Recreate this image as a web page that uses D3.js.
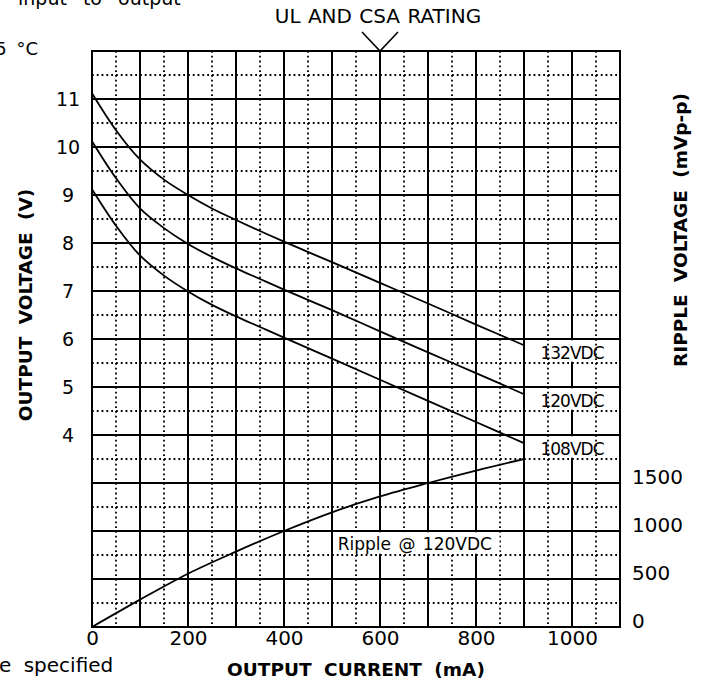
<!DOCTYPE html>
<html>
<head>
<meta charset="utf-8">
<script src="https://cdn.jsdelivr.net/npm/d3@7"></script>
<style>
  body { margin: 0; background: #fff; }
  svg { display: block; font-family: 'DejaVu Sans', sans-serif; }
  .grid-solid line { stroke: #000; stroke-width: 2; }
  .grid-dot line { stroke: #000; stroke-width: 1.8; stroke-dasharray: 1.8 3; }
  .curve { fill: none; stroke: #000; stroke-width: 1.8; }
  .tick text { fill: #000; }
</style>
</head>
<body>
<svg width="704" height="685"></svg>
<script>
// output current (mA) sample points
const current = [0, 50, 100, 150, 200, 250, 300, 350, 400, 500, 600, 700, 800, 900];
// output voltage (V) for each input voltage
const v132 = [11.12, 10.35, 9.74, 9.32, 9.0, 8.72, 8.48, 8.25, 8.03, 7.6, 7.17, 6.74, 6.3, 5.87];
const v120 = [10.12, 9.35, 8.72, 8.31, 7.98, 7.71, 7.47, 7.25, 7.03, 6.6, 6.16, 5.72, 5.29, 4.85];
const v108 = [9.12, 8.36, 7.74, 7.32, 6.99, 6.71, 6.47, 6.25, 6.03, 5.59, 5.15, 4.71, 4.27, 3.83];
// ripple (mVp-p) @ 120VDC
const rippleI = [0, 100, 200, 300, 400, 500, 600, 700, 800, 900];
const ripple = [0, 285, 555, 785, 1000, 1195, 1360, 1500, 1630, 1750];

const xTicks = [0, 200, 400, 600, 800, 1000];
const vTicks = [4, 5, 6, 7, 8, 9, 10, 11];
const rTicks = [0, 500, 1000, 1500];

const svg = d3.select('svg');

const x = d3.scaleLinear().domain([0, 1100]).range([92, 620]);
const yV = d3.scaleLinear().domain([0, 12]).range([627, 51]);
const yR = d3.scaleLinear().domain([0, 6000]).range([627, 51]);

const [x0, x1] = x.range();
const [y0, y1] = yV.range();

// minor (dotted) grid
const gDot = svg.append('g').attr('class', 'grid-dot');
gDot.selectAll('.vx')
  .data(d3.range(50, 1100, 100))
  .enter().append('line')
  .attr('x1', d => x(d)).attr('x2', d => x(d))
  .attr('y1', y1).attr('y2', y0);
gDot.selectAll('.hy')
  .data(d3.range(0.5, 12, 1))
  .enter().append('line')
  .attr('x1', x0).attr('x2', x1)
  .attr('y1', d => yV(d)).attr('y2', d => yV(d));

// major (solid) grid
const gSolid = svg.append('g').attr('class', 'grid-solid');
gSolid.selectAll('.vx')
  .data(d3.range(0, 1101, 100))
  .enter().append('line')
  .attr('x1', d => x(d)).attr('x2', d => x(d))
  .attr('y1', y1).attr('y2', y0);
gSolid.selectAll('.hy')
  .data(d3.range(0, 13, 1))
  .enter().append('line')
  .attr('x1', x0).attr('x2', x1)
  .attr('y1', d => yV(d)).attr('y2', d => yV(d));

// curves
const lineV = d3.line()
  .x(d => x(d[0]))
  .y(d => yV(d[1]))
  .curve(d3.curveCatmullRom.alpha(0.5));
[v132, v120, v108].forEach((s) => {
  svg.append('path')
    .attr('class', 'curve')
    .attr('d', lineV(current.map((c, i) => [c, s[i]])));
});
svg.append('path')
  .attr('class', 'curve')
  .attr('d', d3.line()
    .x(d => x(d[0]))
    .y(d => yR(d[1]))
    .curve(d3.curveCatmullRom.alpha(0.5))(rippleI.map((c, i) => [c, ripple[i]])));

// curve labels
const vdcLabels = [
  { text: '132VDC', v: 6 },
  { text: '120VDC', v: 5 },
  { text: '108VDC', v: 4 }
];
const rowH = yV(0) - yV(0.5);
const lab = svg.append('g');
lab.selectAll('rect')
  .data(vdcLabels)
  .enter().append('rect')
  .attr('x', x(900) + 1.5)
  .attr('y', d => yV(d.v) + 1.2)
  .attr('width', x(1100) - x(900) - 2.5)
  .attr('height', rowH - 2.4)
  .attr('fill', '#fff');
const labDot = svg.append('g').attr('class', 'grid-dot');
vdcLabels.forEach((d) => {
  [950, 1050].forEach((c) => {
    labDot.append('line')
      .attr('x1', x(c)).attr('x2', x(c))
      .attr('y1', yV(d.v)).attr('y2', yV(d.v - 0.5));
  });
});
lab.selectAll('text')
  .data(vdcLabels)
  .enter().append('text')
  .attr('x', x(1000))
  .attr('y', d => yV(d.v) + 20)
  .attr('text-anchor', 'middle')
  .attr('font-size', 17)
  .attr('letter-spacing', -1)
  .text(d => d.text);

svg.append('rect')
  .attr('x', x(500) + 1.5)
  .attr('y', yR(1000) + 1.2)
  .attr('width', x(850) - x(500) - 2)
  .attr('height', yR(750) - yR(1000) - 2.4)
  .attr('fill', '#fff');
svg.append('text')
  .attr('x', x(512))
  .attr('y', yR(1000) + 19)
  .attr('font-size', 17)
  .attr('word-spacing', 2)
  .text('Ripple @ 120VDC');

// axes
const axB = svg.append('g')
  .attr('transform', `translate(0,${y0})`)
  .call(d3.axisBottom(x).tickValues(xTicks).tickFormat(d3.format('d')).tickSize(0).tickPadding(3));
axB.select('.domain').remove();
axB.selectAll('text').attr('font-size', 20).attr('font-family', 'DejaVu Sans').attr('dy', '0.76em');

const axL = svg.append('g')
  .attr('transform', 'translate(68,0)')
  .call(d3.axisLeft(yV).tickValues(vTicks).tickSize(0).tickPadding(0));
axL.select('.domain').remove();
axL.selectAll('text')
  .attr('font-size', 19).attr('font-family', 'DejaVu Sans')
  .attr('text-anchor', 'middle').attr('x', 0);

const axR = svg.append('g')
  .attr('transform', `translate(${x1},0)`)
  .call(d3.axisRight(yR).tickValues(rTicks).tickFormat(d3.format('d')).tickSize(0).tickPadding(12));
axR.select('.domain').remove();
axR.selectAll('text')
  .attr('font-size', 20).attr('font-family', 'DejaVu Sans')
  .attr('dy', 0);

// border
svg.append('rect')
  .attr('x', x0).attr('y', y1)
  .attr('width', x1 - x0).attr('height', y0 - y1)
  .attr('fill', 'none').attr('stroke', '#000').attr('stroke-width', 2);

// axis titles
svg.append('text')
  .attr('x', (x0 + x1) / 2)
  .attr('y', 676)
  .attr('text-anchor', 'middle')
  .attr('font-size', 18.5)
  .attr('font-weight', 'bold')
  .attr('word-spacing', 6)
  .text('OUTPUT CURRENT (mA)');

svg.append('text')
  .attr('transform', 'translate(32,305) rotate(-90)')
  .attr('text-anchor', 'middle')
  .attr('font-size', 18.5)
  .attr('font-weight', 'bold')
  .attr('word-spacing', 6)
  .text('OUTPUT VOLTAGE (V)');

svg.append('text')
  .attr('transform', 'translate(687,230) rotate(-90)')
  .attr('text-anchor', 'middle')
  .attr('font-size', 18.5)
  .attr('font-weight', 'bold')
  .attr('word-spacing', 6)
  .text('RIPPLE VOLTAGE (mVp-p)');

// rating marker
const rx = x(600);
svg.append('path')
  .attr('d', `M${rx - 18},32 L${rx},${y1} L${rx + 18},32`)
  .attr('fill', 'none').attr('stroke', '#000').attr('stroke-width', 1.6);
svg.append('text')
  .attr('x', rx - 2)
  .attr('y', 23)
  .attr('text-anchor', 'middle')
  .attr('font-size', 20)
  .attr('word-spacing', 1)
  .text('UL AND CSA RATING');

// notes from the surrounding page, clipped at the edge as in the source
svg.append('text')
  .attr('x', 18).attr('y', 5)
  .attr('font-size', 19)
  .attr('word-spacing', 10)
  .text('input to output');
svg.append('text')
  .attr('x', 38).attr('y', 55)
  .attr('text-anchor', 'end')
  .attr('font-size', 18)
  .attr('word-spacing', 4)
  .text('25 °C');
svg.append('text')
  .attr('x', -1).attr('y', 672)
  .attr('font-size', 20)
  .attr('word-spacing', 6)
  .text('e specified');
</script>
</body>
</html>
